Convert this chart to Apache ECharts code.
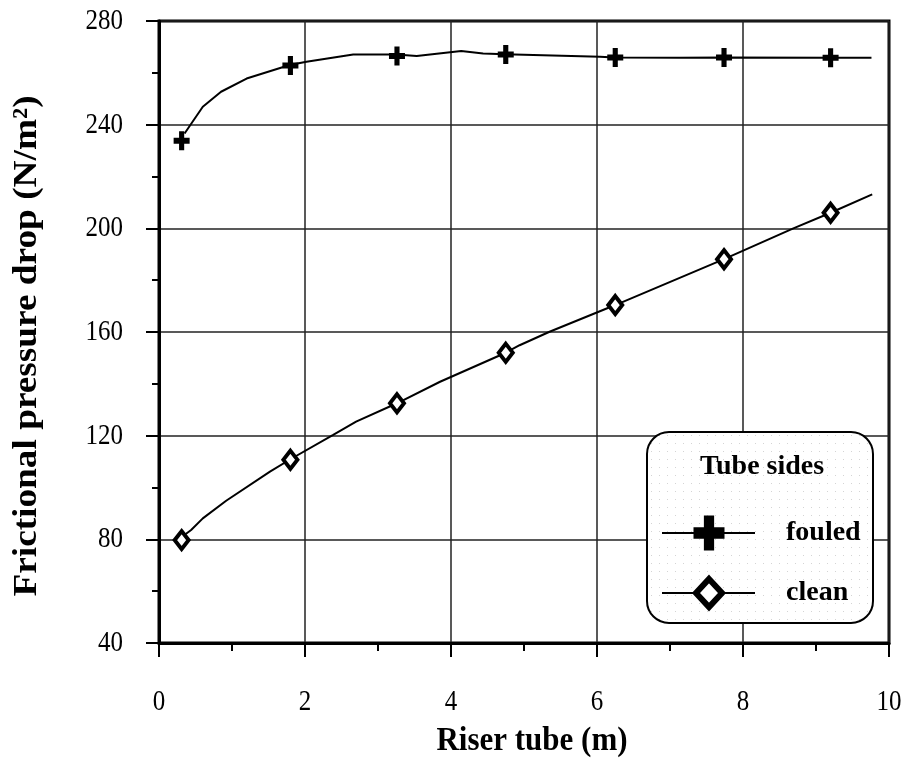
<!DOCTYPE html>
<html>
<head>
<meta charset="utf-8">
<title>Frictional pressure drop along riser tube</title>
<script src="https://cdn.jsdelivr.net/npm/echarts@6/dist/echarts.min.js"></script>
<style>
  html, body { margin: 0; padding: 0; background: #fff; }
  #chart { width: 911px; height: 763px; }
</style>
</head>
<body>
<div id="chart"></div>
<script>
// Riser tube position (m) and frictional pressure drop (N/m²)

// Measured points (markers)
const markerX = [0.31, 1.80, 3.26, 4.75, 6.25, 7.74, 9.20];
const fouledMarkers = [233.8, 262.8, 266.5, 267.1, 265.9, 265.9, 265.8];
const cleanMarkers = [79.7, 110.7, 132.5, 152.0, 170.4, 188.1, 206.0];

// Computed profiles (curves)
const fouledCurveX = [0.35, 0.60, 0.85, 1.20, 1.79, 2.02, 2.66, 3.25, 3.53, 4.14, 4.44, 4.74, 6.04, 6.24, 7.13, 7.75, 9.20, 9.76];
const fouledCurveY = [236.6, 246.9, 252.7, 257.8, 263.0, 264.3, 267.1, 267.1, 266.5, 268.4, 267.5, 267.2, 266.2, 265.9, 265.8, 265.9, 265.8, 265.8];
const cleanCurveX = [0.33, 0.44, 0.60, 0.92, 1.52, 1.80, 2.38, 2.70, 3.26, 3.85, 4.75, 4.94, 5.35, 6.25, 7.74, 8.69, 9.20, 9.77];
const cleanCurveY = [81.3, 83.6, 88.1, 94.9, 106.1, 110.9, 120.2, 125.4, 132.5, 140.8, 152.0, 154.9, 160.1, 170.4, 188.1, 200.0, 206.0, 213.1];

// Axes
const xTicks = [0, 2, 4, 6, 8, 10];
const yTicks = [40, 80, 120, 160, 200, 240, 280];

// Legend
const legendTitle = 'Tube sides';
const seriesNames = ['fouled', 'clean'];

const FONT = "'Liberation Serif', 'Times New Roman', serif";
const PLUS = 'path://M3.4,0 H6.6 V3.4 H10 V6.6 H6.6 V10 H3.4 V6.6 H0 V3.4 H3.4 Z';

const zip = (xs, ys) => xs.map((x, i) => [x, ys[i]]);

// Text style with both current and legacy alignment keys
function txt(text, font, align, vAlign) {
  return {
    text: text, font: font, fill: '#000',
    align: align, verticalAlign: vAlign,
    textAlign: align, textVerticalAlign: vAlign
  };
}

// Plus outline centred on (cx, cy), w x h, arm thickness as fraction
function plusPoints(cx, cy, w, h, t) {
  const ax = w * t / 2, ay = h * t / 2, hw = w / 2, hh = h / 2;
  return [
    [cx - ax, cy - hh], [cx + ax, cy - hh], [cx + ax, cy - ay], [cx + hw, cy - ay],
    [cx + hw, cy + ay], [cx + ax, cy + ay], [cx + ax, cy + hh], [cx - ax, cy + hh],
    [cx - ax, cy + ay], [cx - hw, cy + ay], [cx - hw, cy - ay], [cx - ax, cy - ay]
  ];
}

// Dotted fill for the legend panel
const dots = document.createElement('canvas');
dots.width = 8; dots.height = 8;
(function () {
  const c = dots.getContext('2d');
  c.fillStyle = '#ffffff';
  c.fillRect(0, 0, 8, 8);
  c.fillStyle = '#d4d4d4';
  c.fillRect(3, 3, 1, 1);
})();

const chart = echarts.init(document.getElementById('chart'), null, { renderer: 'canvas' });

const gridLeft = 159, gridTop = 21, gridRight = 22, gridBottom = 120;

// Legend panel geometry
const lg = { x: 647, y: 432, w: 226, h: 191 };
const rowY = [533, 593];

const legendGraphics = [
  {
    type: 'rect', z: 100,
    shape: { x: lg.x, y: lg.y, width: lg.w, height: lg.h, r: 22 },
    style: { fill: { image: dots, repeat: 'repeat' }, stroke: '#000', lineWidth: 2 }
  },
  {
    type: 'text', z: 101, x: lg.x + lg.w / 2 + 2, y: 467,
    style: txt(legendTitle, 'bold 28px ' + FONT, 'center', 'middle')
  }
];
seriesNames.forEach((name, i) => {
  legendGraphics.push({
    type: 'line', z: 101,
    shape: { x1: 662, y1: rowY[i], x2: 755, y2: rowY[i] },
    style: { stroke: '#000', lineWidth: 2 }
  });
  legendGraphics.push({
    type: 'text', z: 101, x: 786, y: rowY[i],
    style: txt(name, 'bold 28px ' + FONT, 'left', 'middle')
  });
});
legendGraphics.push({
  type: 'polygon', z: 102,
  shape: { points: plusPoints(709, rowY[0], 31, 35, 0.33) },
  style: { fill: '#000' }
});
legendGraphics.push({
  type: 'polygon', z: 102,
  shape: { points: [[709, rowY[1] - 14], [722, rowY[1]], [709, rowY[1] + 14], [696, rowY[1]]] },
  style: { fill: '#fff', stroke: '#000', lineWidth: 6, lineJoin: 'miter' }
});

const axisTitleGraphics = [
  {
    type: 'text', x: 27, y: 346, rotation: Math.PI / 2, scaleX: 1.13, z: 50,
    style: txt('Frictional pressure drop (N/m²)', 'bold 33px ' + FONT, 'center', 'middle')
  },
  {
    type: 'text', x: 532, y: 741, scaleY: 1.12, z: 50,
    style: txt('Riser tube (m)', 'bold 31px ' + FONT, 'center', 'middle')
  }
];

const option = {
  animation: false,
  backgroundColor: '#fff',
  grid: {
    left: gridLeft, top: gridTop, right: gridRight, bottom: gridBottom,
    show: true, borderColor: '#000', borderWidth: 3, backgroundColor: 'transparent'
  },
  xAxis: {
    type: 'value', min: xTicks[0], max: xTicks[xTicks.length - 1], interval: 2,
    axisLine: { show: true, onZero: false, lineStyle: { color: '#000', width: 3 } },
    axisTick: { show: true, inside: false, length: 14, lineStyle: { color: '#000', width: 2 } },
    minorTick: { show: true, splitNumber: 2, length: 8, lineStyle: { color: '#000', width: 2 } },
    splitLine: { show: true, lineStyle: { color: '#222', width: 1.5 } },
    axisLabel: { show: false }
  },
  yAxis: {
    type: 'value', min: yTicks[0], max: yTicks[yTicks.length - 1], interval: 40,
    axisLine: { show: true, onZero: false, lineStyle: { color: '#000', width: 3 } },
    axisTick: { show: true, inside: false, length: 13, lineStyle: { color: '#000', width: 2 } },
    minorTick: { show: true, splitNumber: 2, length: 7, lineStyle: { color: '#000', width: 2 } },
    splitLine: { show: true, lineStyle: { color: '#222', width: 1.5 } },
    axisLabel: { show: false }
  },
  series: [
    {
      name: seriesNames[0] + ' profile', type: 'line', data: zip(fouledCurveX, fouledCurveY),
      showSymbol: false, symbol: 'none', smooth: false,
      lineStyle: { color: '#000', width: 2 }, z: 3
    },
    {
      name: seriesNames[1] + ' profile', type: 'line', data: zip(cleanCurveX, cleanCurveY),
      showSymbol: false, symbol: 'none', smooth: false,
      lineStyle: { color: '#000', width: 2 }, z: 3
    },
    {
      name: seriesNames[0], type: 'scatter', data: zip(markerX, fouledMarkers),
      symbol: PLUS, symbolSize: [16, 19], itemStyle: { color: '#000', opacity: 1 }, z: 4
    },
    {
      name: seriesNames[1], type: 'scatter', data: zip(markerX, cleanMarkers),
      symbol: 'diamond', symbolSize: [14, 18],
      itemStyle: { color: '#fff', borderColor: '#000', borderWidth: 4, opacity: 1 }, z: 4
    }
  ]
};

chart.setOption(option);

// Tick labels placed with the axes' own value-to-pixel mapping (tall serif digits)
const finder = { xAxisIndex: 0, yAxisIndex: 0 };
const tickLabelGraphics = [];
xTicks.forEach(v => {
  const p = chart.convertToPixel(finder, [v, yTicks[0]]);
  tickLabelGraphics.push({
    type: 'text', x: p[0], y: p[1] + 59, scaleY: 1.22, z: 50,
    style: txt(String(v), '25px ' + FONT, 'center', 'middle')
  });
});
yTicks.forEach(v => {
  const p = chart.convertToPixel(finder, [xTicks[0], v]);
  tickLabelGraphics.push({
    type: 'text', x: p[0] - 36, y: p[1], scaleY: 1.22, z: 50,
    style: txt(String(v), '25px ' + FONT, 'right', 'middle')
  });
});

chart.setOption({ graphic: axisTitleGraphics.concat(tickLabelGraphics, legendGraphics) });
</script>
</body>
</html>
